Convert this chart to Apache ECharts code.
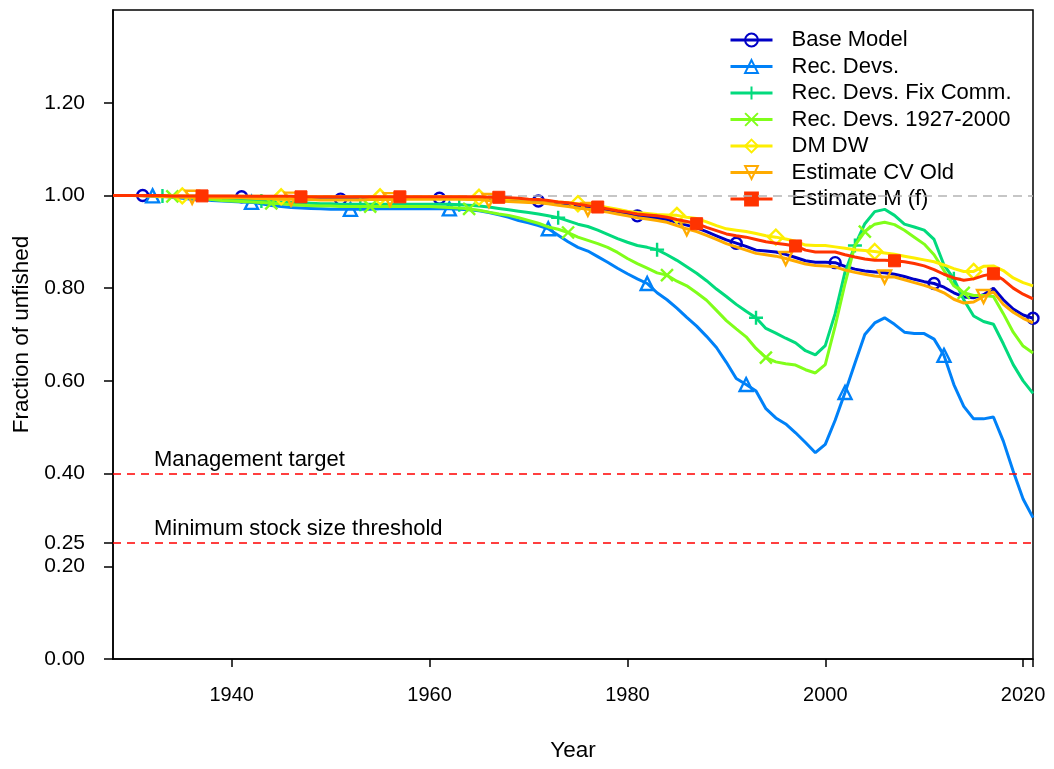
<!DOCTYPE html>
<html>
<head>
<meta charset="utf-8">
<script src="https://cdn.jsdelivr.net/npm/echarts@6/dist/echarts.min.js"></script>
<style>
html,body{margin:0;padding:0;background:#fff;}
#chart{width:1054px;height:769px;}
</style>
</head>
<body>
<div id="chart"></div>
<script>
// ---- categories (years 1928..2021) ----
const years = [];
for (let y = 1928; y <= 2021; y++) years.push(y);

// ---- series values (fraction of unfished), 1928..2021 ----
const baseModel = [1.000, 1.000,
  1.000, 1.000, 0.999, 0.999, 0.999, 0.998, 0.998, 0.998, 0.997, 0.997,
  0.997, 0.997, 0.996, 0.995, 0.995, 0.994, 0.994, 0.993, 0.993, 0.992,
  0.992, 0.992, 0.992, 0.992, 0.993, 0.993, 0.993, 0.994, 0.994, 0.994,
  0.994, 0.994, 0.994, 0.994, 0.993, 0.993, 0.992, 0.991, 0.991, 0.990,
  0.989, 0.988, 0.986, 0.983, 0.980, 0.977, 0.974, 0.971, 0.968, 0.964,
  0.960, 0.956, 0.954, 0.951, 0.948, 0.942, 0.936, 0.930, 0.922, 0.913,
  0.904, 0.897, 0.890, 0.882, 0.880, 0.878, 0.873, 0.866, 0.859, 0.856,
  0.856, 0.855, 0.847, 0.841, 0.837, 0.835, 0.833, 0.830, 0.825, 0.819,
  0.814, 0.810, 0.802, 0.790, 0.781, 0.779, 0.786, 0.800, 0.775, 0.755,
  0.742, 0.735];

const recDevs = [1.000, 1.000,
  1.000, 1.000, 0.999, 0.998, 0.996, 0.994, 0.992, 0.991, 0.989, 0.988,
  0.987, 0.986, 0.985, 0.982, 0.978, 0.976, 0.974, 0.973, 0.972, 0.971,
  0.970, 0.970, 0.970, 0.970, 0.970, 0.971, 0.971, 0.971, 0.971, 0.971,
  0.971, 0.971, 0.971, 0.970, 0.969, 0.967, 0.963, 0.958, 0.953, 0.946,
  0.941, 0.935, 0.928, 0.914, 0.900, 0.888, 0.880, 0.868, 0.856, 0.843,
  0.831, 0.820, 0.810, 0.790, 0.775, 0.757, 0.737, 0.718, 0.696, 0.672,
  0.640, 0.605, 0.592, 0.578, 0.540, 0.520, 0.507, 0.488, 0.467, 0.445,
  0.463, 0.515, 0.575, 0.638, 0.700, 0.725, 0.736, 0.722, 0.705, 0.702,
  0.702, 0.690, 0.655, 0.592, 0.545, 0.518, 0.518, 0.522, 0.470, 0.405,
  0.345, 0.305];

const recDevsFixComm = [1.000, 1.000,
  1.000, 1.000, 1.000, 0.999, 0.998, 0.997, 0.995, 0.994, 0.993, 0.992,
  0.991, 0.990, 0.989, 0.988, 0.987, 0.986, 0.985, 0.984, 0.983, 0.982,
  0.982, 0.981, 0.981, 0.981, 0.981, 0.981, 0.981, 0.981, 0.981, 0.981,
  0.981, 0.981, 0.981, 0.980, 0.979, 0.977, 0.975, 0.972, 0.969, 0.966,
  0.963, 0.960, 0.956, 0.952, 0.945, 0.938, 0.933, 0.925, 0.916, 0.907,
  0.899, 0.892, 0.888, 0.883, 0.872, 0.860, 0.846, 0.832, 0.816, 0.798,
  0.782, 0.765, 0.750, 0.736, 0.713, 0.703, 0.692, 0.682, 0.665, 0.656,
  0.676, 0.745, 0.835, 0.892, 0.939, 0.965, 0.970, 0.957, 0.938, 0.932,
  0.925, 0.905, 0.850, 0.820, 0.775, 0.740, 0.728, 0.722, 0.680, 0.635,
  0.600, 0.573];

const recDevs1927to2000 = [1.000, 1.000,
  1.000, 1.000, 1.000, 0.999, 0.998, 0.997, 0.995, 0.993, 0.991, 0.989,
  0.988, 0.987, 0.986, 0.985, 0.983, 0.982, 0.980, 0.979, 0.978, 0.977,
  0.977, 0.976, 0.976, 0.976, 0.976, 0.976, 0.976, 0.976, 0.976, 0.976,
  0.976, 0.975, 0.974, 0.973, 0.971, 0.968, 0.964, 0.960, 0.957, 0.952,
  0.946, 0.940, 0.932, 0.927, 0.920, 0.910, 0.903, 0.896, 0.888, 0.877,
  0.864, 0.853, 0.843, 0.833, 0.828, 0.815, 0.805, 0.790, 0.774, 0.752,
  0.730, 0.712, 0.695, 0.670, 0.650, 0.641, 0.637, 0.634, 0.624, 0.617,
  0.635, 0.718, 0.810, 0.892, 0.922, 0.938, 0.942, 0.937, 0.925, 0.910,
  0.895, 0.872, 0.838, 0.805, 0.790, 0.784, 0.784, 0.782, 0.745, 0.705,
  0.675, 0.660];

const dmDW = [1.000, 1.000,
  1.000, 1.000, 1.000, 1.000, 0.999, 0.999, 0.999, 0.999, 0.998, 0.998,
  0.998, 0.998, 0.998, 0.998, 0.997, 0.997, 0.997, 0.997, 0.997, 0.997,
  0.997, 0.997, 0.997, 0.997, 0.997, 0.997, 0.997, 0.997, 0.997, 0.997,
  0.997, 0.997, 0.997, 0.997, 0.996, 0.996, 0.995, 0.994, 0.993, 0.992,
  0.991, 0.990, 0.988, 0.986, 0.984, 0.982, 0.980, 0.978, 0.974, 0.970,
  0.966, 0.963, 0.961, 0.959, 0.958, 0.957, 0.953, 0.950, 0.943, 0.935,
  0.928, 0.925, 0.922, 0.918, 0.913, 0.910, 0.906, 0.901, 0.893, 0.892,
  0.892, 0.889, 0.886, 0.883, 0.881, 0.879, 0.876, 0.873, 0.869, 0.865,
  0.861, 0.857, 0.850, 0.842, 0.836, 0.836, 0.847, 0.848, 0.838, 0.822,
  0.812, 0.805];

const estimateCVOld = [1.000, 1.000,
  1.000, 0.999, 0.998, 0.997, 0.997, 0.996, 0.996, 0.996, 0.995, 0.995,
  0.995, 0.995, 0.994, 0.993, 0.993, 0.992, 0.992, 0.991, 0.991, 0.990,
  0.990, 0.990, 0.990, 0.990, 0.991, 0.991, 0.991, 0.992, 0.992, 0.992,
  0.992, 0.992, 0.992, 0.992, 0.991, 0.991, 0.989, 0.988, 0.987, 0.986,
  0.985, 0.984, 0.982, 0.979, 0.976, 0.973, 0.970, 0.967, 0.964, 0.960,
  0.956, 0.952, 0.949, 0.946, 0.942, 0.935, 0.928, 0.922, 0.914, 0.905,
  0.896, 0.889, 0.882, 0.875, 0.872, 0.869, 0.864, 0.858, 0.852, 0.849,
  0.848, 0.846, 0.839, 0.834, 0.830, 0.826, 0.824, 0.824, 0.818, 0.812,
  0.806, 0.799, 0.790, 0.776, 0.768, 0.770, 0.782, 0.792, 0.765, 0.748,
  0.735, 0.725];

const estimateMf = [1.000, 1.000,
  1.000, 1.000, 1.000, 1.000, 0.999, 0.999, 0.999, 0.999, 0.999, 0.999,
  0.999, 0.998, 0.998, 0.998, 0.998, 0.998, 0.998, 0.997, 0.997, 0.997,
  0.997, 0.997, 0.997, 0.997, 0.997, 0.997, 0.997, 0.997, 0.997, 0.997,
  0.997, 0.997, 0.997, 0.997, 0.997, 0.997, 0.996, 0.996, 0.995, 0.994,
  0.992, 0.991, 0.989, 0.986, 0.984, 0.981, 0.978, 0.975, 0.971, 0.967,
  0.964, 0.960, 0.958, 0.956, 0.953, 0.948, 0.944, 0.939, 0.931, 0.924,
  0.917, 0.913, 0.910, 0.905, 0.900, 0.897, 0.894, 0.891, 0.882, 0.878,
  0.878, 0.878, 0.872, 0.867, 0.863, 0.860, 0.860, 0.859, 0.857, 0.853,
  0.848, 0.840, 0.830, 0.822, 0.817, 0.820, 0.827, 0.831, 0.818, 0.800,
  0.787, 0.777];

// ---- base model uncertainty interval ----
const ciUpper = [1.000, 1.000,
  1.000, 1.000, 1.000, 1.000, 1.000, 1.000, 1.000, 1.000, 1.000, 1.000,
  1.000, 1.000, 0.999, 0.999, 0.999, 0.999, 0.999, 0.999, 0.999, 0.999,
  0.999, 0.999, 0.999, 0.999, 0.999, 0.999, 0.999, 0.999, 0.999, 0.999,
  0.999, 0.999, 0.999, 0.999, 0.999, 0.998, 0.998, 0.997, 0.997, 0.996,
  0.995, 0.995, 0.994, 0.993, 0.992, 0.992, 0.991, 0.989, 0.988, 0.987,
  0.985, 0.984, 0.983, 0.982, 0.981, 0.980, 0.978, 0.975, 0.973, 0.970,
  0.968, 0.966, 0.965, 0.964, 0.963, 0.962, 0.961, 0.960, 0.959, 0.957,
  0.953, 0.946, 0.940, 0.938, 0.937, 0.936, 0.935, 0.933, 0.932, 0.930,
  0.928, 0.926, 0.923, 0.920, 0.919, 0.922, 0.927, 0.928, 0.922, 0.915,
  0.910, 0.905];

const ciLower = [1.000, 1.000,
  1.000, 1.000, 0.998, 0.997, 0.996, 0.995, 0.994, 0.993, 0.993, 0.992,
  0.992, 0.991, 0.990, 0.989, 0.988, 0.987, 0.987, 0.986, 0.985, 0.985,
  0.984, 0.984, 0.984, 0.984, 0.984, 0.984, 0.984, 0.984, 0.984, 0.984,
  0.986, 0.986, 0.985, 0.985, 0.984, 0.983, 0.981, 0.979, 0.976, 0.972,
  0.968, 0.965, 0.961, 0.957, 0.952, 0.946, 0.940, 0.934, 0.928, 0.922,
  0.915, 0.907, 0.899, 0.891, 0.884, 0.876, 0.869, 0.862, 0.855, 0.845,
  0.835, 0.828, 0.820, 0.810, 0.800, 0.792, 0.783, 0.775, 0.769, 0.766,
  0.765, 0.756, 0.748, 0.743, 0.738, 0.734, 0.731, 0.720, 0.712, 0.703,
  0.690, 0.678, 0.662, 0.645, 0.641, 0.650, 0.665, 0.668, 0.630, 0.600,
  0.585, 0.570];

// ---- names, reference levels, ticks ----
const seriesNames = ['Base Model', 'Rec. Devs.', 'Rec. Devs. Fix Comm.', 'Rec. Devs. 1927-2000', 'DM DW', 'Estimate CV Old', 'Estimate M (f)'];
const seriesValues = [baseModel, recDevs, recDevsFixComm, recDevs1927to2000, dmDW, estimateCVOld, estimateMf];
const markerLastDigit = [1, 2, 3, 4, 5, 6, 7];
const xTickValues = [1940, 1960, 1980, 2000, 2020, 2021];
const xLabelValues = [1940, 1960, 1980, 2000, 2020];
const yTickValues = [0, 0.2, 0.25, 0.4, 0.6, 0.8, 1.0, 1.2];
const refLevels = [
  { value: 0.4, label: 'Management target' },
  { value: 0.25, label: 'Minimum stock size threshold' }
];
const unfishedLevel = 1.0;

// ---- styles ----
const colors = ['#0000C6', '#0081F8', '#02DA7D', '#80FE1A', '#FDEE02', '#FFAB00', '#FF3300'];
const symbols = ['circle', 'triangle', 'path://M5,0L5,10M0,5L10,5', 'path://M0,0L10,10M10,0L0,10', 'diamond', 'triangle', 'rect'];
const symbolSizes = [11, 13, 14, 12, 15, 13, 12];
const symbolRotates = [0, 0, 0, 0, 0, 180, 0];
const filled = [false, false, false, false, false, false, true];
const FONT = '"Liberation Sans", Arial, Helvetica, sans-serif';

const pairs = arr => years.map((y, i) => [y, arr[i]]);

const series = [];
series.push({
  name: 'ciLow', type: 'line', data: pairs(ciLower), stack: 'ci', symbol: 'none',
  lineStyle: { opacity: 0 }, silent: true, z: 1,
  markLine: {
    silent: true, symbol: 'none', animation: false,
    data: [
      { yAxis: unfishedLevel, lineStyle: { color: '#B4B4B4', type: [9, 6], width: 1.6 }, label: { show: false } }
    ].concat(refLevels.map(r => ({
      yAxis: r.value,
      lineStyle: { color: '#FF0000', type: [8, 6], width: 1.6 },
      label: {
        show: true, position: 'insideStartTop', formatter: r.label,
        color: '#000', fontSize: 22, fontFamily: FONT, padding: [0, 0, 0, 38], distance: 3
      }
    })))
  }
});
series.push({
  name: 'ciBand', type: 'line', data: years.map((y, i) => [y, +(ciUpper[i] - ciLower[i]).toFixed(4)]),
  stack: 'ci', symbol: 'none', silent: true, z: 1,
  lineStyle: { opacity: 0 },
  areaStyle: { color: '#E2E2F6', opacity: 1 }
});

seriesNames.forEach((name, k) => {
  const c = colors[k];
  const size = symbolSizes[k];
  series.push({
    name: name, type: 'line', data: pairs(seriesValues[k]),
    z: 3 + k,
    showSymbol: true, showAllSymbol: true,
    symbol: symbols[k],
    symbolRotate: symbolRotates[k],
    symbolKeepAspect: true,
    symbolSize: (val) => (Math.round(val[0]) % 10 === markerLastDigit[k] % 10 ? size : 0),
    lineStyle: { color: c, width: 3 },
    itemStyle: {
      color: filled[k] ? c : 'rgba(0,0,0,0)',
      borderColor: c,
      borderWidth: filled[k] ? 1 : 2.4
    },
    emphasis: { disabled: true },
    clip: true
  });
});

const chart = echarts.init(document.getElementById('chart'), null, { renderer: 'canvas' });
chart.setOption({
  animation: false,
  backgroundColor: '#fff',
  textStyle: { fontFamily: FONT },
  grid: { left: 113, right: 21, top: 10, bottom: 110, show: true, borderColor: '#000', borderWidth: 1.5, containLabel: false },
  legend: {
    data: seriesNames,
    orient: 'vertical', left: 724, top: 24,
    itemWidth: 42, itemHeight: 16, itemGap: 4.5,
    textStyle: { fontSize: 22, color: '#000', fontFamily: FONT, padding: [0, 0, 0, 14] },
    lineStyle: { width: 3 },
    itemStyle: { borderWidth: 2 },
    selectedMode: false
  },
  xAxis: {
    type: 'value', min: 1928, max: 2021,
    name: 'Year', nameLocation: 'middle', nameGap: 80,
    nameTextStyle: { fontSize: 22.5, color: '#000', fontFamily: FONT },
    axisLine: { show: true, onZero: false, lineStyle: { color: '#000', width: 1.5 } },
    axisTick: { show: true, length: 8, lineStyle: { color: '#000', width: 1.5 }, customValues: xTickValues },
    axisLabel: { show: true, margin: 26, fontSize: 20, color: '#000', fontFamily: FONT, customValues: xLabelValues,
      formatter: v => String(v) },
    splitLine: { show: false }
  },
  yAxis: {
    type: 'value', min: 0, max: 1.4,
    name: 'Fraction of unfished', nameLocation: 'middle', nameGap: 80, nameRotate: 90,
    nameTextStyle: { fontSize: 22.5, color: '#000', fontFamily: FONT },
    axisLine: { show: true, onZero: false, lineStyle: { color: '#000', width: 1.5 } },
    axisTick: { show: true, length: 9, lineStyle: { color: '#000', width: 1.5 }, customValues: yTickValues },
    axisLabel: { show: true, margin: 28, fontSize: 21, color: '#000', fontFamily: FONT, customValues: yTickValues,
      formatter: v => v.toFixed(2) },
    splitLine: { show: false }
  },
  series: series
});
</script>
</body>
</html>
